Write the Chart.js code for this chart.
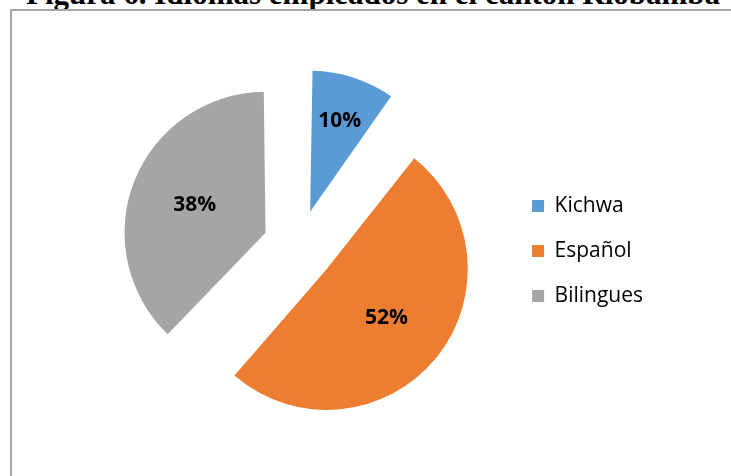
<!DOCTYPE html>
<html lang="es">
<head>
<meta charset="utf-8">
<title>Idiomas empleados en el cantón Riobamba</title>
<script src="https://cdn.jsdelivr.net/npm/chart.js@4.4.1/dist/chart.umd.min.js"></script>
<style>
    html, body {
        margin: 0;
        padding: 0;
        background: #ffffff;
        overflow: hidden;
    }
    .titulo {
        position: absolute;
        left: 26px;
        top: -22px;
        margin: 0;
        font-family: "Liberation Serif", "Times New Roman", serif;
        font-weight: bold;
        font-size: 31px;
        line-height: 1;
        white-space: nowrap;
        color: #000;
    }
    .marco {
        position: absolute;
        left: 10px;
        top: 9px;
        width: 800px;
        height: 600px;
        border: 2px solid #a5a5a5;
    }
    #grafIdiomas {
        position: absolute;
        left: 0;
        top: 0;
    }
</style>
</head>
<body>
<h1 class="titulo">Figura 6. Idiomas empleados en el cantón Riobamba</h1>
<div class="marco"></div>
<canvas id="grafIdiomas" width="731" height="476"></canvas>

<script>
    let idiomas = ["Kichwa", "Español", "Bilingues"];
    let porcentajes = [10, 52, 38];
    let colores = ["#5B9BD5", "#ED7D31", "#A5A5A5"];

    const radioPie = 141;
    const separacion = 144; // chart.js shifts each slice by separacion / 4 px

    // how far from each slice's own centre the % label sits (fraction of radius)
    let posEtiqueta = [0.68, 0.55, 0.54];

    // chart.js grows an offset slice's radius a bit (more for wide slices),
    // put every slice back on the same radius
    const mismoRadio = {
        id: "mismoRadio",
        beforeDatasetsDraw(chart) {
            chart.getDatasetMeta(0).data.forEach((arc) => {
                const circ = arc.endAngle - arc.startAngle;
                const fix = 1 - Math.sin(Math.min(Math.PI, circ));
                arc.outerRadius = radioPie - (arc.options.offset / 4) * fix;
            });
        }
    };

    const etiquetas = {
        id: "etiquetas",
        afterDatasetsDraw(chart) {
            const ctx = chart.ctx;
            const arcs = chart.getDatasetMeta(0).data;
            ctx.save();
            ctx.font = "bold 21px 'Open Sans'";
            ctx.fillStyle = "#000";
            ctx.textAlign = "center";
            ctx.textBaseline = "middle";
            arcs.forEach((arc, i) => {
                const mid = (arc.startAngle + arc.endAngle) / 2;
                const r = arc.options.offset / 4 + radioPie * posEtiqueta[i];
                ctx.fillText(porcentajes[i] + "%", arc.x + Math.cos(mid) * r, arc.y + Math.sin(mid) * r);
            });
            ctx.restore();
        }
    };

    let grafIdiomas = new Chart(document.getElementById("grafIdiomas"), {
        type: "pie",
        data: {
            labels: idiomas,
            datasets: [{
                data: porcentajes,
                backgroundColor: colores,
                borderWidth: 0,
                offset: separacion,
                hoverOffset: 0,
                radius: radioPie
            }]
        },
        options: {
            responsive: false,
            animation: false,
            layout: {
                padding: { left: 90, right: 78, top: 16, bottom: 0 }
            },
            plugins: {
                tooltip: { enabled: false },
                legend: {
                    position: "right",
                    title: {
                        display: true,
                        text: "",
                        padding: 0,
                        font: { size: 10, lineHeight: 1 }
                    },
                    labels: {
                        boxWidth: 12,
                        boxHeight: 12,
                        padding: 24,
                        color: "#000",
                        font: { family: "'Open Sans'", size: 21 }
                    }
                }
            }
        },
        plugins: [mismoRadio, etiquetas]
    });
</script>
</body>
</html>
